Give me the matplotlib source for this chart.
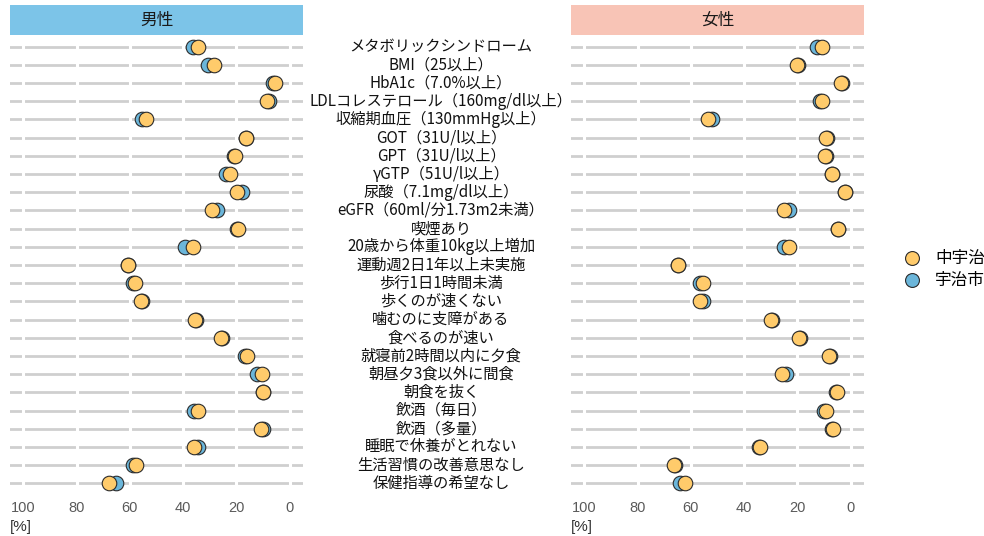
import matplotlib
matplotlib.use("Agg")
import matplotlib.pyplot as plt
import matplotlib.transforms as mtransforms
from matplotlib.lines import Line2D

plt.rcParams['font.family'] = ['Noto Sans CJK JP', 'DejaVu Sans']

# Daten
items = ["メタボリックシンドローム", "BMI（25以上）", "HbA1c（7.0%以上）",
         "LDLコレステロール（160mg/dl以上）", "収縮期血圧（130mmHg以上）",
         "GOT（31U/l以上）", "GPT（31U/l以上）", "γGTP（51U/l以上）",
         "尿酸（7.1mg/dl以上）", "eGFR（60ml/分1.73m2未満）", "喫煙あり",
         "20歳から体重10kg以上増加", "運動週2日1年以上未実施", "歩行1日1時間未満",
         "歩くのが速くない", "噛むのに支障がある", "食べるのが速い",
         "就寝前2時間以内に夕食", "朝昼夕3食以外に間食", "朝食を抜く",
         "飲酒（毎日）", "飲酒（多量）", "睡眠で休養がとれない",
         "生活習慣の改善意思なし", "保健指導の希望なし"]

male_uji = [36.3, 30.6, 6.2, 7.7, 55.3, 16.5, 20.9, 23.8, 17.9, 27.2, 19.6, 39.4, 60.6,
            58.7, 55.3, 35.0, 25.5, 16.9, 12.3, 10.2, 35.9, 10.0, 34.4, 58.7, 65.2]
male_naka = [34.4, 28.4, 5.6, 8.4, 53.8, 16.5, 20.5, 22.5, 19.8, 29.1, 19.3, 36.3, 60.6,
             58.1, 56.0, 35.4, 25.9, 16.0, 10.4, 10.0, 34.6, 10.9, 35.9, 57.7, 67.7]
female_uji = [12.5, 19.7, 3.1, 11.5, 51.9, 9.0, 9.2, 7.2, 2.0, 23.1, 4.75, 25.2, 64.7,
              56.5, 55.6, 29.7, 19.0, 7.7, 24.4, 5.6, 10.2, 6.9, 34.4, 66.0, 64.1]
female_naka = [10.6, 20.2, 3.5, 10.9, 53.5, 9.4, 9.6, 7.2, 2.25, 25.0, 4.75, 23.1, 64.7,
               55.6, 56.5, 30.0, 19.4, 8.1, 25.9, 5.0, 9.4, 6.5, 34.0, 66.2, 62.2]

panels = ["男性", "女性"]
legend_names = ["中宇治", "宇治市"]
xticks = [100, 80, 60, 40, 20, 0]

col_naka = "#FFCB6B"
col_uji = "#6BB6DA"
strip_cols = ["#7CC4E8", "#F8C4B6"]

fig = plt.figure(figsize=(9.84, 5.36), dpi=100)

W, H = 984, 536
def box(x0, y0, x1, y1):
    return [x0 / W, 1 - y1 / H, (x1 - x0) / W, (y1 - y0) / H]

ax_l = fig.add_axes(box(10, 35.8, 303, 494.2))
ax_r = fig.add_axes(box(571, 35.8, 864, 494.2))

n = len(items)
ypos = list(range(n, 0, -1))

for ax, uji, naka, title, sc, sx in [(ax_l, male_uji, male_naka, panels[0], strip_cols[0], 10),
                                     (ax_r, female_uji, female_naka, panels[1], strip_cols[1], 571)]:
    ax.set_xlim(105, -5)
    ax.set_ylim(0.4, n + 0.6)
    for s in ax.spines.values():
        s.set_visible(False)
    for y in ypos:
        ax.axhline(y, color="#cfcfcf", lw=2.0, zorder=1)
    for xv in xticks:
        ax.axvline(xv, color="white", lw=2.2, zorder=2)
    ax.scatter(uji, ypos, s=110, color=col_uji, edgecolor="#2b2b2b", lw=0.8, zorder=3)
    ax.scatter(naka, ypos, s=110, color=col_naka, edgecolor="#2b2b2b", lw=0.8, zorder=4)
    ax.set_yticks([])
    ax.set_xticks(xticks)
    ax.set_xticklabels([str(v) for v in xticks], family="Liberation Sans")
    ax.tick_params(axis="x", length=0, labelsize=10.5, colors="#5a5a5a", pad=5)
    ax.text(0.0, -0.072, "[%]", transform=ax.transAxes, fontsize=11,
            family="Liberation Sans", color="#333333", ha="left", va="center")
    # Kopfleiste
    sax = fig.add_axes(box(sx, 5, sx + 293, 35))
    sax.set_facecolor(sc)
    sax.set_xticks([])
    sax.set_yticks([])
    for s in sax.spines.values():
        s.set_visible(False)
    sax.text(0.5, 0.5, title, ha="center", va="center", fontsize=12, color="#1a1a1a",
             transform=sax.transAxes)

# Beschriftungen in der Mitte
trans = mtransforms.blended_transform_factory(fig.transFigure, ax_l.transData)
for y, lab in zip(ypos, items):
    fig.text(441 / W, y, lab, transform=trans, ha="center", va="center",
             fontsize=11, color="#111111")

# Legende
handles = [Line2D([], [], marker="o", ls="", ms=10, mfc=col_naka, mec="#2b2b2b", mew=0.8),
           Line2D([], [], marker="o", ls="", ms=10, mfc=col_uji, mec="#2b2b2b", mew=0.8)]
fig.legend(handles, legend_names, loc="center left", bbox_to_anchor=(880 / W, 1 - 270 / H),
           frameon=False, fontsize=12, handletextpad=0.4, labelspacing=0.3)

fig.savefig("out.png", dpi=100)
